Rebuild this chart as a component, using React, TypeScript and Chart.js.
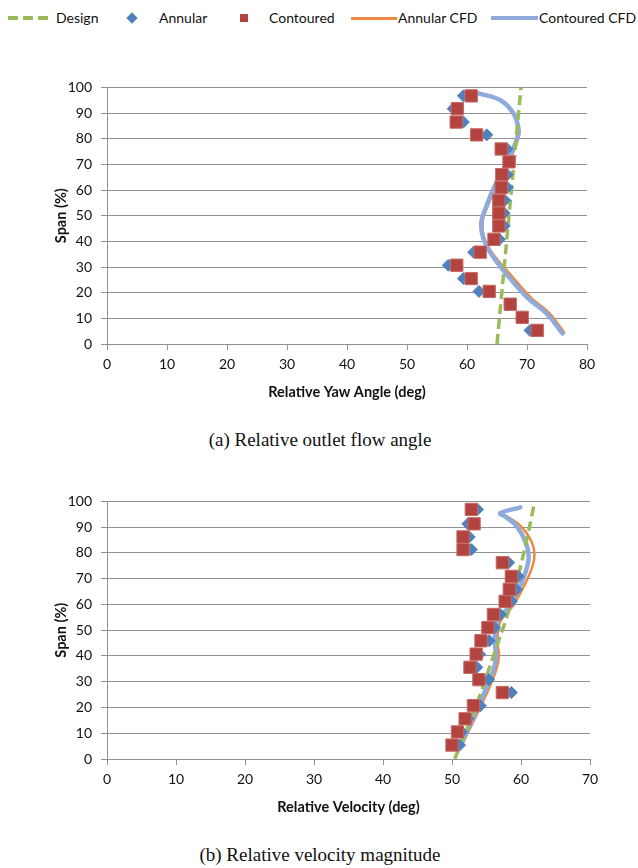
import React, { useEffect, useRef } from "react";
import { Chart, registerables } from "chart.js";

Chart.register(...registerables);

// ---------- Data: (a) Relative outlet flow angle ----------
const spanA = [5.3, 10.4, 15.5, 20.5, 25.5, 30.7, 35.8, 40.8, 46, 51, 56, 61, 66, 71, 76, 81.5, 86.5, 91.7, 96.7];
const annularYaw = [70.5, 69.2, 67.2, 62.0, 59.4, 56.9, 61.1, 65.4, 66.2, 66.2, 66.3, 66.7, 66.7, 67.0, 66.7, 63.3, 59.4, 57.7, 59.4];
const contouredYaw = [71.7, 69.2, 67.2, 63.7, 60.7, 58.3, 62.2, 64.5, 65.3, 65.3, 65.3, 65.7, 65.8, 67.0, 65.7, 61.6, 58.2, 58.4, 60.7];
const designSpanA = [0, 100];
const designYaw = [65, 69];
const cfdSpanA = [4.1, 11.8, 18.2, 27.2, 34.9, 41.3, 47.7, 54.1, 60.5, 70.8, 79.7, 83.6, 90, 95.1, 97.7];
const annularCfdYaw = [76.3, 73.8, 70.6, 67.2, 64.4, 62.9, 62.6, 63.5, 64.7, 67.0, 68.5, 68.7, 67.8, 65.6, 62.2];
const contouredCfdYaw = [75.9, 73.3, 70.0, 66.6, 64.1, 62.7, 62.4, 63.3, 64.4, 66.7, 68.3, 68.6, 67.7, 65.5, 61.9];
const xTicksA = [0, 10, 20, 30, 40, 50, 60, 70, 80];

// ---------- Data: (b) Relative velocity magnitude ----------
const spanB = [5.4, 10.5, 15.6, 20.7, 25.8, 30.8, 35.6, 40.7, 45.9, 51, 56.1, 61.2, 65.8, 70.9, 76.2, 81.3, 86.2, 91.3, 96.9];
const annularVel = [51.1, 51.4, 52.3, 54.1, 58.6, 55.3, 53.6, 54.0, 55.4, 56.2, 57.0, 58.6, 59.3, 59.6, 58.2, 52.8, 52.5, 52.3, 53.7];
const contouredVel = [50.0, 50.8, 51.9, 53.1, 57.3, 53.9, 52.6, 53.5, 54.2, 55.2, 56.0, 57.7, 58.3, 58.6, 57.3, 51.6, 51.6, 53.2, 52.8];
const designSpanB = [0, 20, 40, 60, 80, 100];
const designVel = [50.4, 53.4, 56.0, 58.5, 60.4, 62.0];
const cfdSpanB = [4.7, 16.2, 27.7, 35.4, 40.5, 45.6, 53.3, 59.7, 68.6, 77.5, 83.9, 90.3, 94.1, 95.4, 97.7];
const annularCfdVel = [51.3, 53.4, 55.4, 56.5, 56.8, 56.6, 57.0, 58.9, 60.7, 61.9, 61.6, 60.0, 58.0, 57.2, 59.9];
const contouredCfdVel = [51.1, 53.1, 55.0, 56.1, 56.4, 56.2, 56.6, 58.4, 60.1, 61.1, 60.7, 59.4, 57.7, 57.0, 59.9];
const xTicksB = [0, 10, 20, 30, 40, 50, 60, 70];

const yTicks = [0, 10, 20, 30, 40, 50, 60, 70, 80, 90, 100];

const legendLabels = ["Design", "Annular", "Contoured", "Annular CFD", "Contoured CFD"];
const captionA = "(a) Relative outlet flow angle";
const captionB = "(b) Relative velocity magnitude";
const xTitleA = "Relative Yaw Angle (deg)";
const xTitleB = "Relative Velocity (deg)";
const yTitle = "Span (%)";

const GREEN = "#9BBB59";
const BLUE_M = "#4F81BD";
const RED_M = "#B3433F";
const ORANGE = "#F0883E";
const BLUE_L = "#8FAADC";
const GRID = "#929292";
const FONT = "Lato, 'Noto Sans', sans-serif";

const pts = (xs: number[], ys: number[]) => xs.map((x, i) => ({ x, y: ys[i] }));

function makeConfig(
  xVals: { ann: number[]; con: number[]; des: number[]; annCfd: number[]; conCfd: number[] },
  spans: { pts: number[]; des: number[]; cfd: number[] },
  xMax: number,
  xTicks: number[],
  xTitle: string,
  rightPad: number
): any {
  return {
    type: "scatter",
    data: {
      datasets: [
        {
          label: legendLabels[0],
          data: pts(xVals.des, spans.des),
          showLine: true,
          borderColor: GREEN,
          borderWidth: 3.5,
          borderDash: [10, 5],
          pointRadius: 0,
          tension: 0.4,
          order: 2,
        },
        {
          label: legendLabels[1],
          data: pts(xVals.ann, spans.pts),
          pointStyle: "rectRot",
          pointRadius: 6,
          backgroundColor: BLUE_M,
          borderColor: BLUE_M,
          borderWidth: 1,
          order: 1,
        },
        {
          label: legendLabels[2],
          data: pts(xVals.con, spans.pts),
          pointStyle: "rect",
          pointRadius: 8.7,
          backgroundColor: RED_M,
          borderColor: "#c46a66",
          borderWidth: 1,
          order: 0,
        },
        {
          label: legendLabels[3],
          data: pts(xVals.annCfd, spans.cfd),
          showLine: true,
          borderColor: ORANGE,
          borderWidth: 2.5,
          pointRadius: 0,
          tension: 0.4,
          order: 4,
        },
        {
          label: legendLabels[4],
          data: pts(xVals.conCfd, spans.cfd),
          showLine: true,
          borderColor: BLUE_L,
          borderWidth: 4.5,
          pointRadius: 0,
          tension: 0.4,
          borderCapStyle: "round",
          order: 3,
        },
      ],
    },
    options: {
      animation: false,
      responsive: false,
      maintainAspectRatio: false,
      layout: { padding: { left: 48, right: rightPad, top: 14, bottom: 0 } },
      plugins: { legend: { display: false }, tooltip: { enabled: false } },
      scales: {
        x: {
          type: "linear",
          min: 0,
          max: xMax,
          afterBuildTicks: (s: any) => {
            s.ticks = xTicks.map((v) => ({ value: v }));
          },
          ticks: { font: { family: FONT, size: 14 }, color: "#111", padding: 6, maxRotation: 0 },
          grid: { drawOnChartArea: false, drawTicks: true, tickLength: 6, color: GRID },
          border: { display: true, color: GRID },
          title: {
            display: true,
            text: xTitle,
            font: { family: FONT, size: 14.5, weight: "bold" },
            color: "#111",
            padding: { top: 0, bottom: 3 },
          },
          afterFit: (s: any) => {
            s.height = 60;
          },
        },
        y: {
          type: "linear",
          min: 0,
          max: 100,
          afterBuildTicks: (s: any) => {
            s.ticks = yTicks.map((v) => ({ value: v }));
          },
          ticks: { font: { family: FONT, size: 14 }, color: "#111", padding: 9 },
          grid: { drawTicks: true, tickLength: 6, color: GRID },
          border: { display: true, color: GRID },
          title: {
            display: true,
            text: yTitle,
            font: { family: FONT, size: 14.5, weight: "bold" },
            color: "#111",
            padding: { top: 5, bottom: 0 },
          },
          afterFit: (s: any) => {
            s.width = 59;
          },
        },
      },
    },
  };
}

function ChartCanvas({ config, top, height }: { config: any; top: number; height: number }) {
  const ref = useRef<HTMLCanvasElement | null>(null);
  useEffect(() => {
    if (!ref.current) return;
    const chart = new Chart(ref.current, config);
    return () => chart.destroy();
  }, []);
  return (
    <canvas
      ref={ref}
      width={638}
      height={height}
      style={{ position: "absolute", left: 0, top, width: 638, height }}
    />
  );
}

function Legend() {
  const text = (left: number, label: string) => (
    <div
      style={{
        position: "absolute",
        left,
        top: 8,
        lineHeight: "20px",
        fontFamily: FONT,
        fontSize: 14,
        color: "#111",
        whiteSpace: "nowrap",
      }}
    >
      {label}
    </div>
  );
  const bar = (left: number, width: number, h: number, color: string) => (
    <div style={{ position: "absolute", left, top: 18 - h / 2, width, height: h, background: color }} />
  );
  return (
    <>
      {bar(8, 10, 4, GREEN)}
      {bar(23, 10, 4, GREEN)}
      {bar(38, 10, 4, GREEN)}
      {text(56, legendLabels[0])}
      <div
        style={{
          position: "absolute",
          left: 128,
          top: 14,
          width: 8,
          height: 8,
          background: BLUE_M,
          transform: "rotate(45deg)",
        }}
      />
      {text(159, legendLabels[1])}
      <div style={{ position: "absolute", left: 240, top: 14, width: 8, height: 8, background: RED_M }} />
      {text(269, legendLabels[2])}
      {bar(351, 46, 3, ORANGE)}
      {text(398, legendLabels[3])}
      {bar(491, 47, 4, BLUE_L)}
      {text(539, legendLabels[4])}
    </>
  );
}

const captionStyle = (top: number): React.CSSProperties => ({
  position: "absolute",
  left: 0,
  width: 640,
  top,
  textAlign: "center",
  fontFamily: "'Liberation Serif', 'Times New Roman', serif",
  fontSize: 19,
  lineHeight: "22px",
  color: "#111",
});

export default function App() {
  const configA = makeConfig(
    { ann: annularYaw, con: contouredYaw, des: designYaw, annCfd: annularCfdYaw, conCfd: contouredCfdYaw },
    { pts: spanA, des: designSpanA, cfd: cfdSpanA },
    80,
    xTicksA,
    xTitleA,
    51
  );
  const configB = makeConfig(
    { ann: annularVel, con: contouredVel, des: designVel, annCfd: annularCfdVel, conCfd: contouredCfdVel },
    { pts: spanB, des: designSpanB, cfd: cfdSpanB },
    70,
    xTicksB,
    xTitleB,
    48
  );
  return (
    <div style={{ position: "absolute", left: 0, top: 0, width: 638, height: 868, background: "#fff", overflow: "hidden" }}>
      <Legend />
      <ChartCanvas config={configA} top={70} height={334} />
      <div style={captionStyle(429)}>{captionA}</div>
      <ChartCanvas config={configB} top={484} height={335} />
      <div style={captionStyle(844)}>{captionB}</div>
    </div>
  );
}
